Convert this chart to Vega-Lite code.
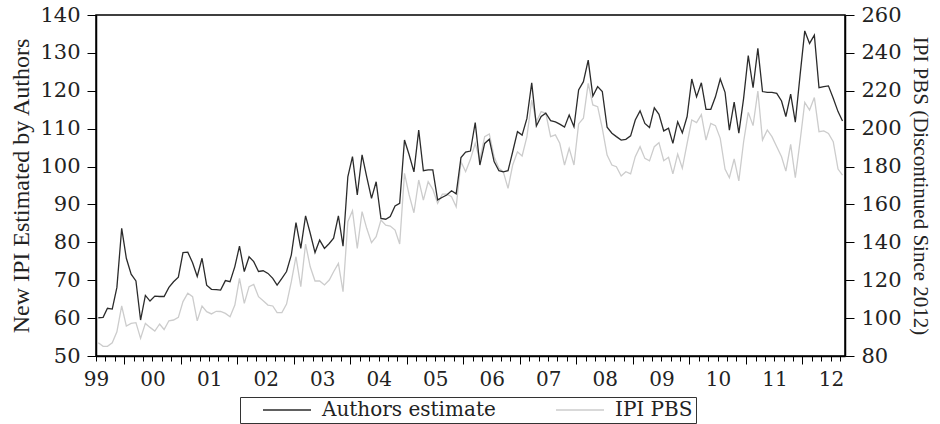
{
  "$schema": "https://vega.github.io/schema/vega-lite/v6.json",
  "width": 749,
  "height": 341,
  "autosize": "none",
  "padding": {"left": 96, "top": 15, "right": 95, "bottom": 68},
  "background": "white",
  "config": {
    "view": {"stroke": "black", "strokeWidth": 1.5},
    "font": "DejaVu Serif",
    "axis": {"domainColor": "black", "domainWidth": 1.5, "tickColor": "black", "tickWidth": 1, "labelColor": "#222", "titleColor": "#222", "labelFontSize": 20, "titleFontSize": 21, "titleFontWeight": "normal", "grid": false, "labelFont": "DejaVu Serif", "titleFont": "Liberation Serif"}
  },
  "data": {"values": [
    {"date":"1999-01-16","authors":60.1,"ipi":87.0},
    {"date":"1999-02-16","authors":60.2,"ipi":85.1},
    {"date":"1999-03-16","authors":62.6,"ipi":85.1},
    {"date":"1999-04-16","authors":62.4,"ipi":87.0},
    {"date":"1999-05-16","authors":68.1,"ipi":92.8},
    {"date":"1999-06-16","authors":83.7,"ipi":106.4},
    {"date":"1999-07-16","authors":75.8,"ipi":95.8},
    {"date":"1999-08-16","authors":71.6,"ipi":97.2},
    {"date":"1999-09-16","authors":69.8,"ipi":97.6},
    {"date":"1999-10-16","authors":59.5,"ipi":89.3},
    {"date":"1999-11-16","authors":66.0,"ipi":97.2},
    {"date":"1999-12-16","authors":64.5,"ipi":95.1},
    {"date":"2000-01-16","authors":65.8,"ipi":93.2},
    {"date":"2000-02-16","authors":65.7,"ipi":96.9},
    {"date":"2000-03-16","authors":65.7,"ipi":94.0},
    {"date":"2000-04-16","authors":68.1,"ipi":98.6},
    {"date":"2000-05-16","authors":69.6,"ipi":99.0},
    {"date":"2000-06-16","authors":70.8,"ipi":100.4},
    {"date":"2000-07-16","authors":77.3,"ipi":108.7},
    {"date":"2000-08-16","authors":77.4,"ipi":113.1},
    {"date":"2000-09-16","authors":74.6,"ipi":111.3},
    {"date":"2000-10-16","authors":71.0,"ipi":98.6},
    {"date":"2000-11-16","authors":75.8,"ipi":106.4},
    {"date":"2000-12-16","authors":68.7,"ipi":103.4},
    {"date":"2001-01-16","authors":67.6,"ipi":102.2},
    {"date":"2001-02-16","authors":67.5,"ipi":103.6},
    {"date":"2001-03-16","authors":67.4,"ipi":103.5},
    {"date":"2001-04-16","authors":69.9,"ipi":102.5},
    {"date":"2001-05-16","authors":69.6,"ipi":100.7},
    {"date":"2001-06-16","authors":73.6,"ipi":106.9},
    {"date":"2001-07-16","authors":79.0,"ipi":121.0},
    {"date":"2001-08-16","authors":72.3,"ipi":107.8},
    {"date":"2001-09-16","authors":76.2,"ipi":116.6},
    {"date":"2001-10-16","authors":74.9,"ipi":117.8},
    {"date":"2001-11-16","authors":72.3,"ipi":111.3},
    {"date":"2001-12-16","authors":72.5,"ipi":109.2},
    {"date":"2002-01-16","authors":71.8,"ipi":106.9},
    {"date":"2002-02-16","authors":70.5,"ipi":106.4},
    {"date":"2002-03-16","authors":68.7,"ipi":102.9},
    {"date":"2002-04-16","authors":70.5,"ipi":102.9},
    {"date":"2002-05-16","authors":72.3,"ipi":107.4},
    {"date":"2002-06-16","authors":76.7,"ipi":119.2},
    {"date":"2002-07-16","authors":85.2,"ipi":132.4},
    {"date":"2002-08-16","authors":78.4,"ipi":116.6},
    {"date":"2002-09-16","authors":87.0,"ipi":139.1},
    {"date":"2002-10-16","authors":82.4,"ipi":127.1},
    {"date":"2002-11-16","authors":77.3,"ipi":119.6},
    {"date":"2002-12-16","authors":80.6,"ipi":119.6},
    {"date":"2003-01-16","authors":78.4,"ipi":117.5},
    {"date":"2003-02-16","authors":79.7,"ipi":120.1},
    {"date":"2003-03-16","authors":81.1,"ipi":124.5},
    {"date":"2003-04-16","authors":87.0,"ipi":128.9},
    {"date":"2003-05-16","authors":79.0,"ipi":114.0},
    {"date":"2003-06-16","authors":97.3,"ipi":150.9},
    {"date":"2003-07-16","authors":102.6,"ipi":156.7},
    {"date":"2003-08-16","authors":92.5,"ipi":136.8},
    {"date":"2003-09-16","authors":103.1,"ipi":156.2},
    {"date":"2003-10-16","authors":97.3,"ipi":147.4},
    {"date":"2003-11-16","authors":91.6,"ipi":139.8},
    {"date":"2003-12-16","authors":96.0,"ipi":143.0},
    {"date":"2004-01-16","authors":86.3,"ipi":151.8},
    {"date":"2004-02-16","authors":86.1,"ipi":149.1},
    {"date":"2004-03-16","authors":86.8,"ipi":148.6},
    {"date":"2004-04-16","authors":89.6,"ipi":146.5},
    {"date":"2004-05-16","authors":90.3,"ipi":139.1},
    {"date":"2004-06-16","authors":107.0,"ipi":176.4},
    {"date":"2004-07-16","authors":103.1,"ipi":165.0},
    {"date":"2004-08-16","authors":98.6,"ipi":155.6},
    {"date":"2004-09-16","authors":109.6,"ipi":172.9},
    {"date":"2004-10-16","authors":98.9,"ipi":162.3},
    {"date":"2004-11-16","authors":99.1,"ipi":172.0},
    {"date":"2004-12-16","authors":99.1,"ipi":168.0},
    {"date":"2005-01-16","authors":91.2,"ipi":160.6},
    {"date":"2005-02-16","authors":91.9,"ipi":165.5},
    {"date":"2005-03-16","authors":92.5,"ipi":165.5},
    {"date":"2005-04-16","authors":93.6,"ipi":164.1},
    {"date":"2005-05-16","authors":92.8,"ipi":158.8},
    {"date":"2005-06-16","authors":102.4,"ipi":182.6},
    {"date":"2005-07-16","authors":103.8,"ipi":177.3},
    {"date":"2005-08-16","authors":104.1,"ipi":183.8},
    {"date":"2005-09-16","authors":111.6,"ipi":192.3},
    {"date":"2005-10-16","authors":100.4,"ipi":183.5},
    {"date":"2005-11-16","authors":106.1,"ipi":195.8},
    {"date":"2005-12-16","authors":107.2,"ipi":197.2},
    {"date":"2006-01-16","authors":101.3,"ipi":185.2},
    {"date":"2006-02-16","authors":98.9,"ipi":179.1},
    {"date":"2006-03-16","authors":98.6,"ipi":177.3},
    {"date":"2006-04-16","authors":98.9,"ipi":168.5},
    {"date":"2006-05-16","authors":103.9,"ipi":180.8},
    {"date":"2006-06-16","authors":109.2,"ipi":187.8},
    {"date":"2006-07-16","authors":108.3,"ipi":185.6},
    {"date":"2006-08-16","authors":112.7,"ipi":195.8},
    {"date":"2006-09-16","authors":122.1,"ipi":215.1},
    {"date":"2006-10-16","authors":110.7,"ipi":203.7},
    {"date":"2006-11-16","authors":113.2,"ipi":209.0},
    {"date":"2006-12-16","authors":114.1,"ipi":208.1},
    {"date":"2007-01-16","authors":112.1,"ipi":195.8},
    {"date":"2007-02-16","authors":111.8,"ipi":196.7},
    {"date":"2007-03-16","authors":111.2,"ipi":192.3},
    {"date":"2007-04-16","authors":110.4,"ipi":180.8},
    {"date":"2007-05-16","authors":113.6,"ipi":189.6},
    {"date":"2007-06-16","authors":110.5,"ipi":180.8},
    {"date":"2007-07-16","authors":120.2,"ipi":202.5},
    {"date":"2007-08-16","authors":122.4,"ipi":205.5},
    {"date":"2007-09-16","authors":128.1,"ipi":223.9},
    {"date":"2007-10-16","authors":118.6,"ipi":212.5},
    {"date":"2007-11-16","authors":121.1,"ipi":211.6},
    {"date":"2007-12-16","authors":119.8,"ipi":200.2},
    {"date":"2008-01-16","authors":110.4,"ipi":186.1},
    {"date":"2008-02-16","authors":108.8,"ipi":180.8},
    {"date":"2008-03-16","authors":107.9,"ipi":179.9},
    {"date":"2008-04-16","authors":107.0,"ipi":175.0},
    {"date":"2008-05-16","authors":107.2,"ipi":177.3},
    {"date":"2008-06-16","authors":108.1,"ipi":176.1},
    {"date":"2008-07-16","authors":112.3,"ipi":185.2},
    {"date":"2008-08-16","authors":114.7,"ipi":190.5},
    {"date":"2008-09-16","authors":111.4,"ipi":184.3},
    {"date":"2008-10-16","authors":110.3,"ipi":183.0},
    {"date":"2008-11-16","authors":115.5,"ipi":190.5},
    {"date":"2008-12-16","authors":113.8,"ipi":192.6},
    {"date":"2009-01-16","authors":109.4,"ipi":183.1},
    {"date":"2009-02-16","authors":110.1,"ipi":184.9},
    {"date":"2009-03-16","authors":106.1,"ipi":176.1},
    {"date":"2009-04-16","authors":111.8,"ipi":186.6},
    {"date":"2009-05-16","authors":108.9,"ipi":179.1},
    {"date":"2009-06-16","authors":113.2,"ipi":192.3},
    {"date":"2009-07-16","authors":123.1,"ipi":204.6},
    {"date":"2009-08-16","authors":118.4,"ipi":203.2},
    {"date":"2009-09-16","authors":122.1,"ipi":207.4},
    {"date":"2009-10-16","authors":115.1,"ipi":194.0},
    {"date":"2009-11-16","authors":115.1,"ipi":202.8},
    {"date":"2009-12-16","authors":118.4,"ipi":201.6},
    {"date":"2010-01-16","authors":123.1,"ipi":194.9},
    {"date":"2010-02-16","authors":119.6,"ipi":178.7},
    {"date":"2010-03-16","authors":109.6,"ipi":174.1},
    {"date":"2010-04-16","authors":117.0,"ipi":184.0},
    {"date":"2010-05-16","authors":108.8,"ipi":172.4},
    {"date":"2010-06-16","authors":118.0,"ipi":193.1},
    {"date":"2010-07-16","authors":129.3,"ipi":208.6},
    {"date":"2010-08-16","authors":120.8,"ipi":201.6},
    {"date":"2010-09-16","authors":131.2,"ipi":219.9},
    {"date":"2010-10-16","authors":119.8,"ipi":194.0},
    {"date":"2010-11-16","authors":119.6,"ipi":199.3},
    {"date":"2010-12-16","authors":119.6,"ipi":195.8},
    {"date":"2011-01-16","authors":119.3,"ipi":190.5},
    {"date":"2011-02-16","authors":117.3,"ipi":185.2},
    {"date":"2011-03-16","authors":113.2,"ipi":177.6},
    {"date":"2011-04-16","authors":119.1,"ipi":191.7},
    {"date":"2011-05-16","authors":111.7,"ipi":174.1},
    {"date":"2011-06-16","authors":124.2,"ipi":193.5},
    {"date":"2011-07-16","authors":135.8,"ipi":213.9},
    {"date":"2011-08-16","authors":132.5,"ipi":209.8},
    {"date":"2011-09-16","authors":134.7,"ipi":216.4},
    {"date":"2011-10-16","authors":120.8,"ipi":198.4},
    {"date":"2011-11-16","authors":121.1,"ipi":198.8},
    {"date":"2011-12-16","authors":121.3,"ipi":197.5},
    {"date":"2012-01-16","authors":118.0,"ipi":193.1},
    {"date":"2012-02-16","authors":114.5,"ipi":178.7},
    {"date":"2012-03-16","authors":112.0,"ipi":175.5}
  ]},
  "encoding": {
    "x": {
      "field": "date",
      "type": "temporal",
      "scale": {"type": "utc", "domain": [{"year": 1999, "month": 1, "date": 1, "utc": true}, {"year": 2012, "month": 4, "date": 1, "utc": true}]},
      "axis": {
        "title": null,
        "tickCount": {"interval": "month", "step": 2},
        "labelExpr": "utcmonth(datum.value) == 0 ? utcFormat(datum.value, '%y') : ''",
        "labelOverlap": false,
        "labelFlush": false,
        "tickSize": {"condition": {"test": "utcmonth(datum.value) == 6", "value": 8}, "value": 5},
        "labelPadding": 8
      }
    }
  },
  "layer": [
    {
      "mark": {"type": "line", "strokeWidth": 1.3},
      "encoding": {
        "y": {"field": "ipi", "type": "quantitative", "scale": {"domain": [80, 260], "nice": false, "zero": false},
              "axis": {"orient": "right", "title": "IPI PBS (Discontinued Since 2012)", "values": [80,100,120,140,160,180,200,220,240,260], "tickSize": 9, "labelPadding": 7, "titlePadding": 8, "titleFontSize": 21, "labelFontSize": 21}},
        "color": {"datum": "IPI PBS", "type": "nominal"}
      }
    },
    {
      "mark": {"type": "line", "strokeWidth": 1.3},
      "encoding": {
        "y": {"field": "authors", "type": "quantitative", "scale": {"domain": [50, 140], "nice": false, "zero": false},
              "axis": {"orient": "left", "title": "New IPI Estimated by Authors", "values": [50,60,70,80,90,100,110,120,130,140], "tickSize": 9, "labelPadding": 7, "titlePadding": 6, "titleFontSize": 24, "labelFontSize": 21}},
        "color": {
          "datum": "Authors estimate",
          "type": "nominal",
          "scale": {"domain": ["Authors estimate", "IPI PBS"], "range": ["#2b2b2b", "#cccccc"]},
          "legend": {
            "title": null,
            "orient": "none",
            "legendX": 144,
            "legendY": 382,
            "direction": "horizontal",
            "strokeColor": "#333",
            "fillColor": "white",
            "padding": 3,
            "symbolType": "M-1,0H8.6",
            "symbolSize": 100,
            "symbolOffset": 15,
            "symbolStrokeWidth": 1.6,
            "labelFontSize": 20,
            "labelLimit": 400,
            "labelFont": "DejaVu Serif",
            "labelColor": "#222",
            "labelOffset": 44,
            "columnPadding": 40
          }
        }
      }
    }
  ],
  "resolve": {"scale": {"y": "independent"}}
}
